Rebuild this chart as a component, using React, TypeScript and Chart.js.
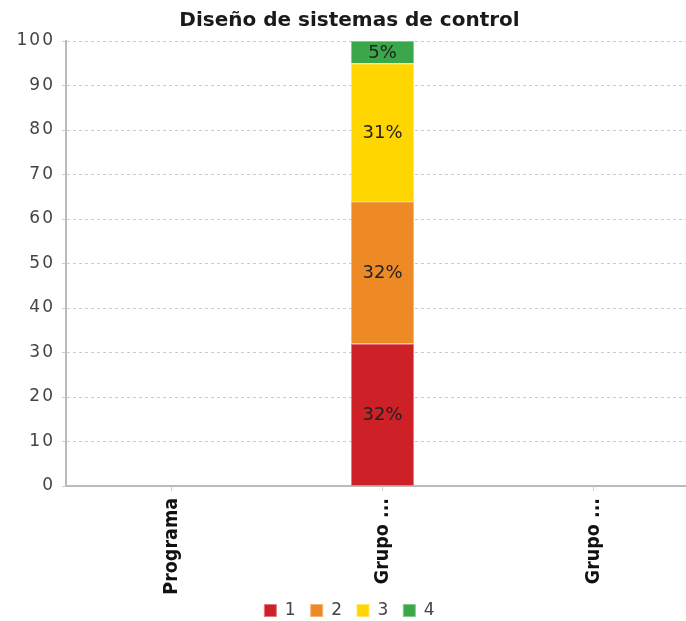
import React, { useEffect, useRef } from "react";
import { Chart, registerables } from "chart.js";

Chart.register(...registerables);

const categories = ["Programa", "Grupo ...", "Grupo ..."];
const seriesNames = ["1", "2", "3", "4"];
const series1 = [null, 32, null];
const series2 = [null, 32, null];
const series3 = [null, 31, null];
const series4 = [null, 5, null];
const yTicks = [0, 10, 20, 30, 40, 50, 60, 70, 80, 90, 100];

const colors = ["#CD2027", "#EE8A25", "#FFD600", "#3AA84A"];
const borders = ["#E07A80", "#F5B578", "#FFE566", "#82C98D"];

const condensed = "'DejaVu Sans Condensed', 'DejaVu Sans', sans-serif";
const regular = "'DejaVu Sans', sans-serif";

const barLabels = {
  id: "barLabels",
  afterDatasetsDraw(chart: any) {
    const ctx = chart.ctx;
    ctx.save();
    ctx.font = `18px ${regular}`;
    ctx.fillStyle = "#222";
    ctx.textAlign = "center";
    ctx.textBaseline = "middle";
    chart.data.datasets.forEach((ds: any, i: number) => {
      const meta = chart.getDatasetMeta(i);
      meta.data.forEach((el: any, j: number) => {
        const v = ds.data[j];
        if (v == null || v === 0) return;
        const p = el.getCenterPoint();
        ctx.fillText(`${v}%`, p.x, p.y + 1);
      });
    });
    ctx.restore();
  },
};

export default function App() {
  const ref = useRef<HTMLCanvasElement | null>(null);
  useEffect(() => {
    if (!ref.current) return;
    const all = [series1, series2, series3, series4];
    const chart = new Chart(ref.current, {
      type: "bar",
      data: {
        labels: categories,
        datasets: all.map((d, i) => ({
          label: seriesNames[i],
          data: d,
          backgroundColor: colors[i],
          borderColor: borders[i],
          borderWidth: 1,
          categoryPercentage: 0.3,
          barPercentage: 1,
        })),
      },
      options: {
        animation: false,
        responsive: true,
        maintainAspectRatio: false,
        layout: { padding: { left: 0, right: 3, top: 0, bottom: 0 } },
        plugins: {
          title: {
            display: true,
            text: "Diseño de sistemas de control",
            color: "#1a1a1a",
            font: { family: regular, size: 20, weight: "bold", lineHeight: 1.2 },
            padding: { top: 9, bottom: 8 },
          },
          legend: {
            position: "bottom",
            labels: {
              boxWidth: 12,
              boxHeight: 12,
              padding: 15,
              color: "#444",
              font: { family: regular, size: 17 },
            },
          },
          tooltip: { enabled: false },
        },
        scales: {
          x: {
            stacked: true,
            grid: { offset: false, drawOnChartArea: false, drawTicks: true, tickLength: 5, color: "#ccc" },
            border: { color: "#bbb", width: 2 },
            ticks: {
              minRotation: 90,
              maxRotation: 90,
              color: "#111",
              font: { family: condensed, size: 19.5, weight: "bold" },
              padding: 7,
            },
            afterFit: (s: any) => {
              s.height = 101;
              s._computeLabelArea = () => undefined;
            },
          },
          y: {
            stacked: true,
            min: 0,
            max: 100,
            afterBuildTicks: (s: any) => {
              s.ticks = yTicks.map((v) => ({ value: v }));
            },
            ticks: {
              color: "#444",
              font: { family: regular, size: 17 },
              padding: 7,
            },
            grid: { color: "#ccc", tickLength: 4 },
            border: { color: "#bbb", width: 2, dash: [3, 3] },
            afterFit: (s: any) => {
              s.width = 66;
              if (!s.__spaced) {
                const orig = s.drawLabels.bind(s);
                s.drawLabels = (area: any) => {
                  const ctx = s.ctx;
                  const prev = ctx.letterSpacing;
                  ctx.letterSpacing = "2px";
                  orig(area);
                  ctx.letterSpacing = prev || "0px";
                };
                s.__spaced = true;
              }
            },
          },
        },
      },
      plugins: [barLabels],
    });
    return () => chart.destroy();
  }, []);
  return (
    <div style={{ position: "fixed", left: 0, top: 0, width: 702, height: 629, background: "#fff" }}>
      <canvas ref={ref} />
    </div>
  );
}
